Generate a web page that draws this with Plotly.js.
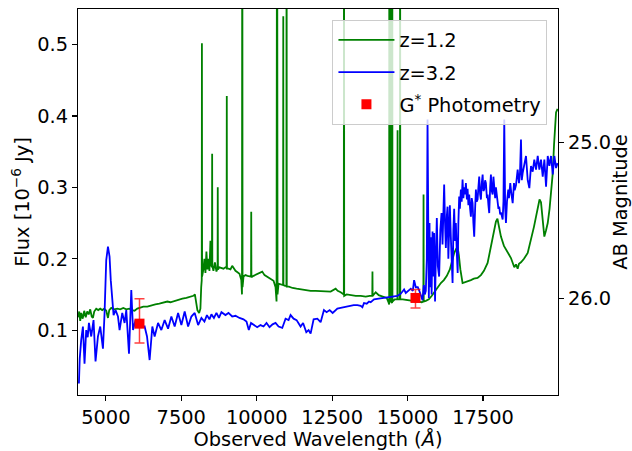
<!DOCTYPE html>
<html>
<head>
<meta charset="utf-8">
<script src="https://cdn.plot.ly/plotly-3.0.1.min.js"></script>
<style>html,body{margin:0;padding:0;background:#fff}#chart{width:632px;height:451px}</style>
</head>
<body>
<div id="chart"></div>
<script>
// z=1.2 spectrum (observed wavelength in Angstrom, flux in 1e-6 Jy)
const greenWave = [4084,4117,4150,4183,4233,4283,4333,4382,4432,4482,4532,4572,4615,4681,4748,4814,4880,4947,5013,5070,5113,5179,5279,5378,5478,5578,5677,5777,5876,5953,6042,6142,6242,6374,6507,6640,6773,6906,7038,7138,7271,7404,7536,7669,7802,7901,7951,7985,8034,8091,8134,8160,
8178,8184,8190,8233,8266,8300,8333,8366,8399,8433,8466,8499,8517,8523,8529,8565,8615,8665,8703,8709,8715,8765,8831,8898,8964,9002,9008,9014,9064,9130,9187,9230,9296,9363,9429,9489,9512,9522,9530,9562,9628,9695,9761,9812,9818,9824,9894,9993,10093,10183,10259,10359,10458,10558,10624,10657,10675,10690,10724,10790,10874,10880,10886,10940,10984,10990,10996,11066,11189,11321,11454,11620,11786,11952,12118,12284,12450,12616,12683,12782,12887,12893,12899,12981,13114,13280,13446,13612,13745,13830,13836,13842,13944,14044,14177,14309,14359,14390,14394,14400,14436,14442,14448,14486,14492,14498,14575,14662,14668,14674,14708,14746,14752,14758,14841,14997,15106,15239,15371,15471,15523,15529,15535,15604,15704,15803,15903,16003,16102,16202,16301,16401,16467,16544,16600,16656,16699,16749,16822,16899,16998,17098,17197,17320,17430,17530,17652,17729,17795,17872,17928,17978,18028,18094,18193,18316,18426,18536,18593,18648,18692,18758,18858,18981,19057,19147,19190,19257,19323,19373,19422,19472,19532,19589,19645,19705,19754,19811,19854,19887,19920,19970];
const greenFlux = [0.118,0.126,0.113,0.124,0.116,0.127,0.118,0.126,0.122,0.129,0.119,0.117,0.126,0.130,0.128,0.130,0.128,0.130,0.127,0.117,0.128,0.131,0.129,0.130,0.129,0.131,0.129,0.130,0.128,0.127,0.130,0.131,0.133,0.133,0.135,0.136,0.137,0.138,0.140,0.139,0.141,0.143,0.144,0.145,0.147,0.148,0.150,0.140,0.128,0.124,0.130,0.160,
0.170,0.502,0.175,0.185,0.200,0.180,0.210,0.185,0.200,0.183,0.225,0.190,0.188,0.347,0.190,0.183,0.195,0.182,0.187,0.300,0.185,0.188,0.187,0.186,0.188,0.187,0.428,0.186,0.186,0.185,0.190,0.187,0.183,0.181,0.179,0.170,0.150,0.900,0.160,0.175,0.177,0.176,0.175,0.175,0.266,0.174,0.176,0.178,0.180,0.182,0.177,0.174,0.172,0.169,0.160,0.140,0.900,0.150,0.165,0.164,0.163,0.540,0.163,0.162,0.162,0.900,0.161,0.161,0.159,0.158,0.157,0.156,0.155,0.155,0.155,0.155,0.154,0.158,0.155,0.153,0.150,0.900,0.148,0.150,0.149,0.148,0.148,0.147,0.148,0.148,0.182,0.148,0.153,0.149,0.147,0.145,0.140,0.136,0.900,0.140,0.140,0.900,0.140,0.138,0.900,0.140,0.143,0.143,0.380,0.143,0.143,0.143,0.900,0.143,0.143,0.142,0.142,0.141,0.140,0.139,0.140,0.290,0.140,0.141,0.143,0.148,0.154,0.161,0.166,0.170,0.176,0.185,0.196,0.208,0.213,0.217,0.205,0.185,0.166,0.167,0.169,0.170,0.172,0.173,0.177,0.183,0.194,0.210,0.228,0.241,0.252,0.256,0.247,0.231,0.218,0.208,0.201,0.188,0.192,0.186,0.193,0.195,0.200,0.208,0.220,0.236,0.245,0.259,0.276,0.283,0.279,0.255,0.231,0.240,0.250,0.270,0.295,0.320,0.360,0.392,0.405,0.410];

// z=3.2 spectrum
const blueWave = [4107,4134,4183,4240,4293,4349,4399,4439,4515,4592,4658,4738,4814,4904,4957,5013,5070,5123,5163,5212,5256,5322,5402,5455,5544,5621,5677,5767,5843,5900,5986,6059,6142,6208,6285,6364,6451,6540,6617,6730,6839,6949,7062,7171,7281,7394,7503,7613,7726,7835,7945,8058,8167,8267,8350,8433,8499,8582,8665,8748,8831,8964,9064,9187,9296,9429,9562,9661,9738,9811,9894,10016,10126,10226,10325,10425,10524,10624,10724,10847,10956,11056,11122,11222,11321,11454,11537,11643,11720,11786,11886,12009,12118,12228,12317,12417,12517,12673,12782,12881,13004,13114,13214,13336,13446,13502,13556,13645,13722,13778,13888,14044,14220,14376,14552,14665,14774,14884,14940,15007,15106,15173,15216,15272,15339,15389,15438,15495,15538,15571,
15604,15637,15661,15681,15704,15727,15747,15770,15797,15827,15853,15880,15910,15936,15969,16002,16046,16085,16125,16158,16185,16212,16241,16268,16301,16324,16351,16377,16401,16434,16460,16491,16517,16544,16574,16600,16634,16660,16683,16710,16733,16766,16793,16822,16849,16876,16906,16932,16965,16989,17015,17042,17072,17098,17125,17154,17181,17208,17238,17264,17291,17320,17347,17374,17404,17430,17457,17487,17513,17540,17570,17596,17629,17652,17679,17706,17736,17762,17789,17819,17845,17872,17902,17928,17962,17985,18011,18038,18068,18094,18121,18151,18177,18204,18234,18260,18294,18337,18360,18403,18443,18483,18526,18549,18592,18648,18692,18725,18758,18785,18814,18868,18924,18981,19035,19090,19147,19200,19257,19313,19367,19422,19479,19533,19589,19645,19699,19754,19811,19865,19920,19970];
const blueFlux = [0.025,0.060,0.086,0.105,0.053,0.100,0.090,0.110,0.091,0.114,0.056,0.091,0.105,0.074,0.123,0.198,0.217,0.203,0.170,0.147,0.121,0.128,0.119,0.100,0.124,0.110,0.128,0.067,0.156,0.100,0.114,0.108,0.115,0.104,0.105,0.091,0.058,0.105,0.091,0.110,0.100,0.114,0.102,0.119,0.105,0.124,0.107,0.126,0.105,0.119,0.124,0.107,0.117,0.112,0.121,0.115,0.122,0.117,0.124,0.117,0.125,0.121,0.124,0.119,0.120,0.117,0.115,0.112,0.100,0.110,0.108,0.104,0.107,0.105,0.110,0.104,0.108,0.110,0.105,0.103,0.116,0.114,0.121,0.116,0.114,0.105,0.110,0.097,0.100,0.095,0.115,0.116,0.111,0.128,0.125,0.128,0.124,0.130,0.131,0.132,0.133,0.134,0.135,0.135,0.134,0.132,0.138,0.137,0.140,0.139,0.143,0.144,0.145,0.146,0.147,0.148,0.151,0.157,0.152,0.155,0.158,0.155,0.170,0.160,0.160,0.155,0.150,0.142,0.163,0.150,
0.155,0.200,0.395,0.190,0.145,0.250,0.160,0.230,0.150,0.238,0.175,0.236,0.140,0.200,0.257,0.190,0.175,0.240,0.264,0.220,0.270,0.304,0.250,0.215,0.260,0.273,0.200,0.245,0.275,0.230,0.190,0.166,0.240,0.270,0.225,0.250,0.205,0.180,0.250,0.287,0.270,0.297,0.280,0.311,0.285,0.300,0.290,0.306,0.283,0.298,0.275,0.290,0.270,0.259,0.285,0.278,0.250,0.231,0.270,0.297,0.280,0.283,0.300,0.315,0.290,0.283,0.305,0.318,0.295,0.297,0.310,0.306,0.285,0.290,0.275,0.264,0.300,0.318,0.295,0.290,0.315,0.305,0.285,0.300,0.290,0.283,0.270,0.273,0.262,0.265,0.258,0.255,0.280,0.395,0.270,0.250,0.280,0.297,0.285,0.306,0.290,0.278,0.306,0.296,0.303,0.325,0.306,0.320,0.367,0.310,0.320,0.330,0.344,0.310,0.299,0.330,0.322,0.339,0.325,0.344,0.325,0.339,0.315,0.339,0.301,0.344,0.330,0.344,0.318,0.344,0.327,0.334];

// G* photometry
const photWave = [6115, 15262];
const photFlux = [0.109, 0.145];
const photErrHi = [0.035, 0.012];
const photErrLo = [0.027, 0.014];

// right axis: AB magnitude ticks
const magTicks = [25.0, 26.0];
const magTickText = ['25.0', '26.0'];
const magTickFlux = magTicks.map(m => Math.pow(10, (23.9 - m) / 2.5));

const seriesNames = ['z=1.2', 'z=3.2', 'G<sup>*</sup> Photometry'];

const FONT = 'DejaVu Sans';
const FS = 19.4;
const yRange = [0.009, 0.55];

const traces = [
  {x: greenWave, y: greenFlux, type: 'scatter', mode: 'lines', name: seriesNames[0],
   line: {color: '#008000', width: 1.8}, legendgroup: 'a'},
  {x: blueWave, y: blueFlux, type: 'scatter', mode: 'lines', name: seriesNames[1],
   line: {color: '#0000ff', width: 1.8}, legendgroup: 'b'},
  {x: photWave, y: photFlux, type: 'scatter', mode: 'markers', name: seriesNames[2], yaxis: 'y2',
   marker: {symbol: 'square', size: 10, color: '#ff0000'},
   error_y: {type: 'data', symmetric: false, array: photErrHi, arrayminus: photErrLo,
             color: 'rgba(255,0,0,0.75)', thickness: 1.5, width: 5},
   legendgroup: 'c'}
];

const axisCommon = {
  showgrid: false, zeroline: false, showline: true, linecolor: '#000', linewidth: 1.1,
  ticks: 'outside', ticklen: 5, tickwidth: 1.1, tickcolor: '#000',
  tickfont: {family: FONT, size: FS, color: '#000'}
};

const layout = {
  width: 632, height: 451,
  margin: {l: 78, r: 74, t: 9, b: 56},
  paper_bgcolor: '#fff', plot_bgcolor: '#fff',
  font: {family: FONT, size: FS, color: '#000'},
  showlegend: true,
  xaxis: Object.assign({}, axisCommon, {
    range: [4077, 19985], tick0: 0, dtick: 2500, tickformat: 'd', mirror: true,
    title: {text: 'Observed Wavelength (<i>Å</i>)', font: {family: FONT, size: FS}, standoff: 8}
  }),
  yaxis: Object.assign({}, axisCommon, {
    range: yRange, tick0: 0, dtick: 0.1, tickformat: '.1f', mirror: true,
    title: {text: 'Flux [10<sup>−6</sup> Jy]', font: {family: FONT, size: FS}, standoff: 2}
  }),
  yaxis2: Object.assign({}, axisCommon, {
    overlaying: 'y', side: 'right', anchor: 'x', range: yRange,
    tickmode: 'array', tickvals: magTickFlux, ticktext: magTickText,
    title: {text: 'AB Magnitude', font: {family: FONT, size: FS}, standoff: 8}
  }),
  legend: {
    x: 0.978, y: 0.972, xanchor: 'right', yanchor: 'top',
    bgcolor: 'rgba(255,255,255,0.8)', bordercolor: '#cccccc', borderwidth: 1,
    font: {family: FONT, size: FS, color: '#000'}, tracegroupgap: 4, itemwidth: 56
  }
};

Plotly.newPlot('chart', traces, layout, {displayModeBar: false, staticPlot: true});
</script>
</body>
</html>
